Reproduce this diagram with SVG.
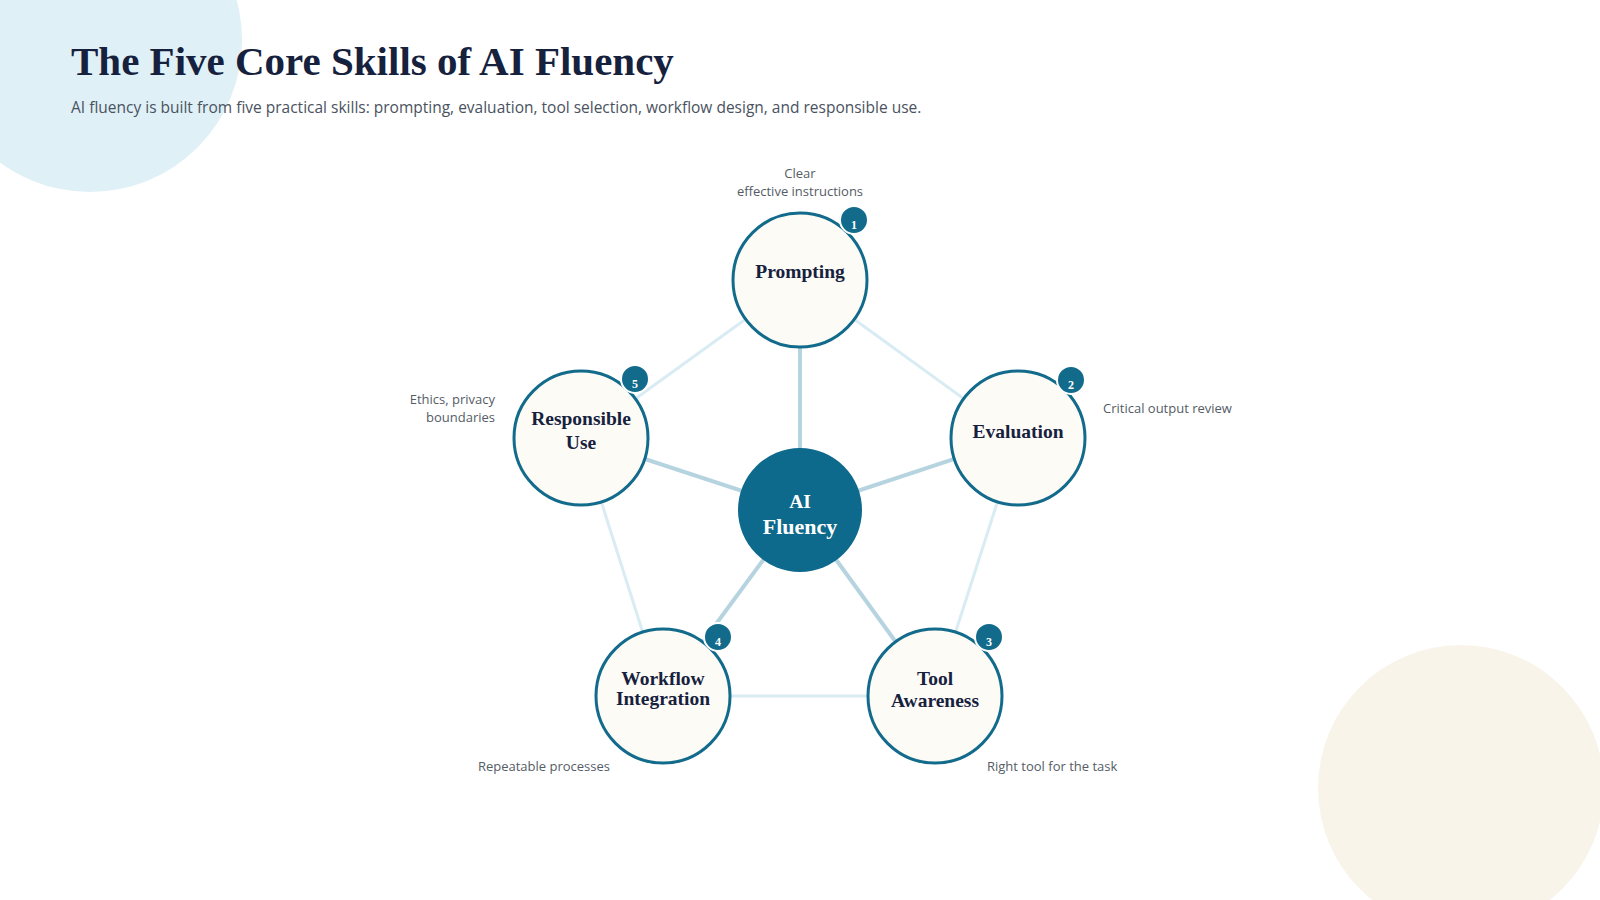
<svg xmlns="http://www.w3.org/2000/svg" width="1600" height="900" viewBox="0 0 1600 900">
<style>
.t{font-family:"Liberation Serif","DejaVu Serif",serif;font-weight:bold;fill:#16213e}
.s{font-family:"Open Sans","Noto Sans",sans-serif;fill:#555c66;font-size:13px}
.node{fill:#fdfbf6;stroke:#136b8c;stroke-width:3}
.badge{fill:#136b8c;stroke:#fff;stroke-width:2}
.bn{font-family:"Liberation Serif",serif;font-weight:bold;fill:#fff;font-size:12px;text-anchor:middle}
.nl{font-family:"Liberation Serif","DejaVu Serif",serif;font-weight:bold;fill:#16213e;font-size:19.5px;text-anchor:middle}
.spoke{stroke:#b6d4e0;stroke-width:4}
.rim{stroke:#d9ecf3;stroke-width:3}
</style>
<rect width="1600" height="900" fill="#fff"/>
<circle cx="90" cy="40" r="152" fill="#dff0f7"/>
<circle cx="1461" cy="788" r="143" fill="#f8f4ea"/>
<text class="t" x="71" y="75" font-size="41">The Five Core Skills of AI Fluency</text>
<text x="71" y="113" font-family="Open Sans,Noto Sans,sans-serif" font-size="15.5" fill="#4a5260">AI fluency is built from five practical skills: prompting, evaluation, tool selection, workflow design, and responsible use.</text>
<g id="connectors">
<line class="rim" x1="800" y1="280" x2="1018" y2="438"/>
<line class="rim" x1="1018" y1="438" x2="935" y2="696"/>
<line class="rim" x1="935" y1="696" x2="663" y2="696"/>
<line class="rim" x1="663" y1="696" x2="581" y2="438"/>
<line class="rim" x1="581" y1="438" x2="800" y2="280"/>
<line class="spoke" x1="800" y1="510" x2="800" y2="280"/>
<line class="spoke" x1="800" y1="510" x2="1018" y2="438"/>
<line class="spoke" x1="800" y1="510" x2="935" y2="696"/>
<line class="spoke" x1="800" y1="510" x2="663" y2="696"/>
<line class="spoke" x1="800" y1="510" x2="581" y2="438"/>
</g>
<g id="center"><circle cx="800" cy="510" r="62" fill="#0e6a8c"/>
<text class="nl" x="800" y="508" fill="#fff" style="fill:#fff" font-size="22">AI</text>
<text class="nl" x="800" y="534" style="fill:#fff;font-size:22px">Fluency</text></g>
<g id="prompting"><circle class="node" cx="800" cy="280" r="67"/><text class="nl" x="800" y="278">Prompting</text>
<circle class="badge" cx="854" cy="220" r="14"/><text class="bn" x="854" y="229">1</text>
<text class="s" x="800" y="178" text-anchor="middle">Clear</text><text class="s" x="800" y="196" text-anchor="middle">effective instructions</text></g>
<g id="evaluation"><circle class="node" cx="1018" cy="438" r="67"/><text class="nl" x="1018" y="438">Evaluation</text>
<circle class="badge" cx="1071" cy="380" r="14"/><text class="bn" x="1071" y="389">2</text>
<text class="s" x="1103" y="413">Critical output review</text></g>
<g id="tool"><circle class="node" cx="935" cy="696" r="67"/><text class="nl" x="935" y="685">Tool</text><text class="nl" x="935" y="707">Awareness</text>
<circle class="badge" cx="989" cy="637" r="14"/><text class="bn" x="989" y="646">3</text>
<text class="s" x="987" y="771">Right tool for the task</text></g>
<g id="workflow"><circle class="node" cx="663" cy="696" r="67"/><text class="nl" x="663" y="685">Workflow</text><text class="nl" x="663" y="705">Integration</text>
<circle class="badge" cx="718" cy="637" r="14"/><text class="bn" x="718" y="646">4</text>
<text class="s" x="610" y="771" text-anchor="end">Repeatable processes</text></g>
<g id="responsible"><circle class="node" cx="581" cy="438" r="67"/><text class="nl" x="581" y="425">Responsible</text><text class="nl" x="581" y="449">Use</text>
<circle class="badge" cx="635" cy="379" r="14"/><text class="bn" x="635" y="388">5</text>
<text class="s" x="495" y="404" text-anchor="end">Ethics, privacy</text><text class="s" x="495" y="422" text-anchor="end">boundaries</text></g>
</svg>
